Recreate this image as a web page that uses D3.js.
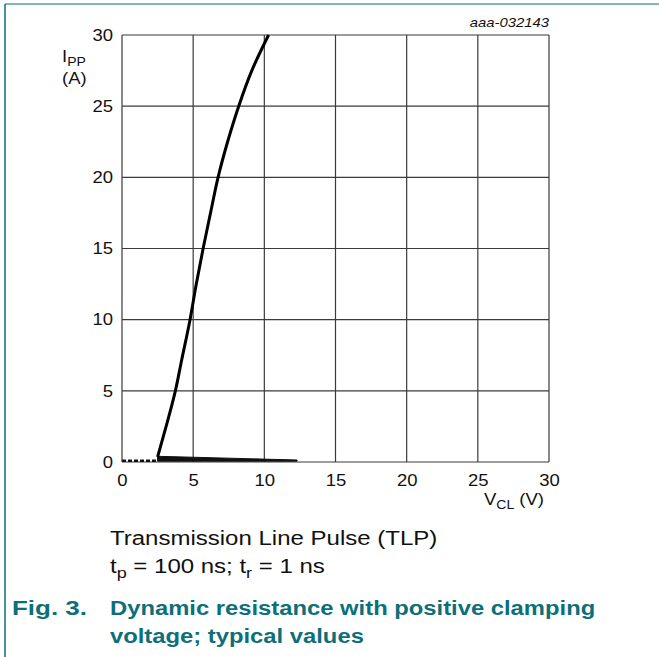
<!DOCTYPE html>
<html>
<head>
<meta charset="utf-8">
<script src="https://cdn.jsdelivr.net/npm/d3@7"></script>
<style>
  body { margin: 0; background: #fff; }
  svg text { font-family: "Liberation Sans", Arial, sans-serif; }
</style>
</head>
<body>
<div id="chart"></div>
<script>
// clamping curve (V, A)
let clampV = [2.5, 3.1, 3.75, 4.2, 4.78, 5.22, 5.7, 6.22, 6.75, 7.42, 8.2, 9.12, 10.3];
let clampI = [0.35, 2.5, 5, 7.2, 10, 12.5, 15, 17.5, 20, 22.5, 25, 27.5, 30];
// leakage part near 0 A
let baseV = [0, 2.5];
let baseI = [0.08, 0.08];
let tailV = [2.5, 12.3];
let tailTop = [0.4, 0.14];
let tailBottom = [0.06, 0.06];
let xTicks = [0, 5, 10, 15, 20, 25, 30];
let yTicks = [0, 5, 10, 15, 20, 25, 30];

const teal = "#0c6f79";
let margin = { top: 35, left: 122 };
let width = 427, height = 427;

// the original lettering is a little wider than Arial, stretch it
function stretch(sel, factor) {
    sel.each(function() {
        let w = this.getComputedTextLength();
        d3.select(this).attr("textLength", w * factor).attr("lengthAdjust", "spacingAndGlyphs");
    });
}

let svg = d3.select("#chart").append("svg")
    .attr("width", 659)
    .attr("height", 657);

// page frame
svg.append("line").attr("x1", 5).attr("x2", 659).attr("y1", 4).attr("y2", 4)
    .attr("stroke", "#7fb6bb").attr("stroke-width", 2);
svg.append("line").attr("x1", 5).attr("x2", 5).attr("y1", 4).attr("y2", 657)
    .attr("stroke", teal).attr("stroke-width", 1.5);

let x = d3.scaleLinear().domain([0, 30]).range([0, width]);
let y = d3.scaleLinear().domain([0, 30]).range([height, 0]);

let g = svg.append("g").attr("transform", `translate(${margin.left},${margin.top})`);

// grid
g.append("g")
    .selectAll("line")
    .data(xTicks)
    .enter().append("line")
    .attr("x1", d => x(d)).attr("x2", d => x(d))
    .attr("y1", 0).attr("y2", height)
    .attr("stroke", "#3a3a3a").attr("stroke-width", 1.2);
g.append("g")
    .selectAll("line")
    .data(yTicks)
    .enter().append("line")
    .attr("x1", 0).attr("x2", width)
    .attr("y1", d => y(d)).attr("y2", d => y(d))
    .attr("stroke", "#3a3a3a").attr("stroke-width", 1.2);

// axes (labels only)
let xAxis = g.append("g")
    .attr("transform", `translate(0,${height})`)
    .call(d3.axisBottom(x).tickValues(xTicks).tickSize(0).tickPadding(12));
let yAxis = g.append("g")
    .call(d3.axisLeft(y).tickValues(yTicks).tickSize(0).tickPadding(9));
[xAxis, yAxis].forEach(a => {
    a.select(".domain").remove();
    a.selectAll("text")
        .attr("font-size", 16.5)
        .attr("fill", "#111")
        .style("font-family", "Liberation Sans, Arial, sans-serif")
        .call(stretch, 1.12);
});

// leakage wedge
let tailData = tailV.map((v, i) => ({ v: v, hi: tailTop[i], lo: tailBottom[i] }));
g.append("path")
    .datum(tailData)
    .attr("d", d3.area().x(d => x(d.v)).y0(d => y(d.lo)).y1(d => y(d.hi)))
    .attr("fill", "#111")
    .attr("stroke", "#111")
    .attr("stroke-width", 1);

g.append("path")
    .datum(baseV.map((v, i) => [v, baseI[i]]))
    .attr("d", d3.line().x(d => x(d[0])).y(d => y(d[1])))
    .attr("fill", "none")
    .attr("stroke", "#111")
    .attr("stroke-width", 2.5)
    .attr("stroke-dasharray", "4,2");

// clamping curve
let clampData = clampV.map((v, i) => [v, clampI[i]]);
g.append("path")
    .datum(clampData)
    .attr("d", d3.line().curve(d3.curveMonotoneY).x(d => x(d[0])).y(d => y(d[1])))
    .attr("fill", "none")
    .attr("stroke", "#000")
    .attr("stroke-width", 3)
    .attr("stroke-linejoin", "round");

// axis titles
let yt = svg.append("text").attr("x", 62).attr("y", 62).attr("font-size", 16.5).attr("fill", "#111");
yt.append("tspan").text("I");
yt.append("tspan").attr("font-size", 12.5).attr("dy", 4).text("PP");
yt.call(stretch, 1.12);
svg.append("text").attr("x", 62).attr("y", 84).attr("font-size", 16.5).attr("fill", "#111").text("(A)")
    .call(stretch, 1.12);

let xt = svg.append("text").attr("x", 484).attr("y", 505).attr("font-size", 16.5).attr("fill", "#111");
xt.append("tspan").text("V");
xt.append("tspan").attr("font-size", 12.5).attr("dy", 4).text("CL");
xt.append("tspan").attr("dy", -4).text(" (V)");
xt.call(stretch, 1.12);

svg.append("text")
    .attr("x", margin.left + width).attr("y", 27)
    .attr("text-anchor", "end")
    .attr("font-size", 13.5)
    .attr("font-style", "italic")
    .attr("fill", "#111")
    .text("aaa-032143")
    .call(stretch, 1.1);

// notes under the chart
svg.append("text").attr("x", 110).attr("y", 545).attr("font-size", 20).attr("fill", "#111")
    .text("Transmission Line Pulse (TLP)")
    .call(stretch, 1.2);
let n2 = svg.append("text").attr("x", 110).attr("y", 573).attr("font-size", 20).attr("fill", "#111");
n2.append("tspan").text("t");
n2.append("tspan").attr("font-size", 15).attr("dy", 5).text("p");
n2.append("tspan").attr("dy", -5).text(" = 100 ns; t");
n2.append("tspan").attr("font-size", 15).attr("dy", 5).text("r");
n2.append("tspan").attr("dy", -5).text(" = 1 ns");
n2.call(stretch, 1.2);

// figure caption
let cap = svg.append("g").attr("fill", teal).attr("font-weight", "bold").attr("font-size", 19.5);
let figLabel = cap.append("text").attr("x", 12).attr("y", 615).text("Fig. 3.");
cap.append("text").attr("class", "cap").attr("x", 110).attr("y", 615).text("Dynamic resistance with positive clamping");
cap.append("text").attr("class", "cap").attr("x", 110).attr("y", 643).text("voltage; typical values");
cap.selectAll("text.cap").call(stretch, 1.22);
figLabel.call(stretch, 1.33);
</script>
</body>
</html>
